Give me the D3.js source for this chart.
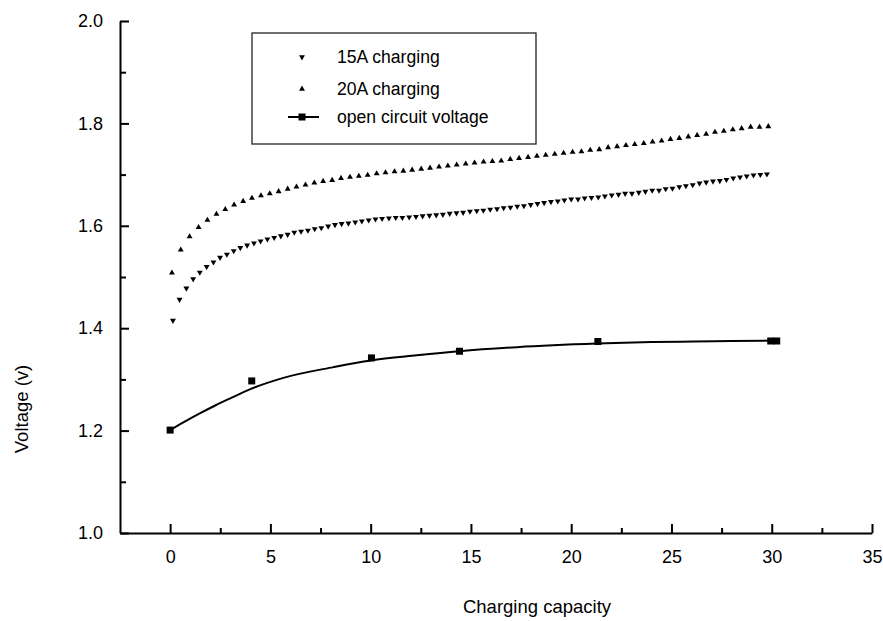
<!DOCTYPE html>
<head>
<meta charset="utf-8">
<style>
body { margin: 0; background: #fff; }
text { font-family: "Liberation Sans", Arial, sans-serif; fill: #000; }
.axis path, .axis line { stroke: #000; stroke-width: 2px; }
.axis text { font-size: 18px; }
.fit { fill: none; stroke: #000; stroke-width: 2px; }
</style>
</head>
<body>
<script src="https://d3js.org/d3.v7.min.js"></script>
<script>

// 15A charging (down triangles)
var cap15 = [0.14,0.47,0.81,1.15,1.48,1.82,2.16,2.49,2.83,3.17,
  3.50,3.84,4.18,4.51,4.85,5.19,5.52,5.86,6.19,6.53,
  6.87,7.21,7.54,7.88,8.22,8.55,8.89,9.23,9.56,9.90,
  10.24,10.57,10.91,11.25,11.58,11.92,12.26,12.59,12.93,13.27,
  13.60,13.94,14.28,14.61,14.95,15.29,15.62,15.96,16.30,16.63,
  16.97,17.31,17.64,17.98,18.32,18.65,18.99,19.33,19.66,20.00,
  20.34,20.67,21.01,21.35,21.68,22.02,22.36,22.69,23.03,23.37,
  23.70,24.04,24.38,24.71,25.05,25.39,25.72,26.06,26.40,26.73,
  27.07,27.41,27.74,28.08,28.42,28.75,29.09,29.43,29.76];
var volt15 = [1.415,1.456,1.478,1.496,1.509,1.520,1.529,1.538,1.544,1.551,
  1.557,1.562,1.566,1.570,1.574,1.577,1.580,1.583,1.587,1.589,
  1.591,1.594,1.596,1.599,1.602,1.604,1.605,1.607,1.609,1.611,
  1.613,1.614,1.615,1.616,1.616,1.617,1.618,1.619,1.620,1.621,
  1.622,1.624,1.625,1.626,1.628,1.629,1.630,1.632,1.633,1.635,
  1.636,1.638,1.639,1.641,1.643,1.645,1.647,1.648,1.650,1.652,
  1.652,1.654,1.655,1.656,1.658,1.660,1.661,1.663,1.663,1.665,
  1.667,1.669,1.669,1.672,1.673,1.676,1.678,1.680,1.683,1.685,
  1.687,1.688,1.690,1.693,1.695,1.697,1.699,1.700,1.701];

// 20A charging (up triangles)
var cap20 = [0.09,0.53,0.97,1.42,1.86,2.31,2.75,3.19,3.64,4.08,
  4.53,4.97,5.41,5.86,6.30,6.75,7.19,7.63,8.08,8.52,
  8.97,9.41,9.85,10.30,10.74,11.19,11.63,12.07,12.52,12.96,
  13.41,13.85,14.29,14.74,15.18,15.63,16.07,16.51,16.96,17.40,
  17.85,18.29,18.73,19.18,19.62,20.07,20.51,20.95,21.40,21.84,
  22.29,22.73,23.17,23.62,24.06,24.51,24.95,25.39,25.84,26.28,
  26.73,27.17,27.61,28.06,28.50,28.95,29.39,29.83];
var volt20 = [1.508,1.553,1.579,1.597,1.611,1.623,1.632,1.641,1.648,1.654,
  1.659,1.663,1.667,1.672,1.676,1.680,1.684,1.687,1.689,1.693,
  1.695,1.697,1.699,1.702,1.704,1.706,1.707,1.709,1.711,1.713,
  1.715,1.717,1.719,1.721,1.723,1.725,1.726,1.727,1.730,1.732,
  1.734,1.736,1.738,1.740,1.742,1.744,1.745,1.748,1.749,1.753,
  1.755,1.757,1.759,1.761,1.764,1.766,1.769,1.771,1.774,1.777,
  1.779,1.783,1.785,1.788,1.790,1.793,1.793,1.794];

// open circuit voltage measurements
var capOcv = [0, 4.07, 10.04, 14.43, 21.33, 29.95, 30.25];
var voltOcv = [1.201, 1.297, 1.342, 1.355, 1.374, 1.375, 1.375];

// fitted curve through the open circuit points
var capFit = [0, 0.75, 1.5, 2.25, 3, 4, 5.65, 8.15, 10, 12.3, 14.4, 17.3, 21.3, 24, 26.1, 28, 30.3];
var voltFit = [1.201, 1.218, 1.234, 1.249, 1.263, 1.281, 1.303, 1.324, 1.337, 1.347, 1.355, 1.363, 1.370, 1.373, 1.374, 1.375, 1.376];

// ticks
var xTicks = [0, 5, 10, 15, 20, 25, 30, 35];
var xMinor = [2.5, 7.5, 12.5, 17.5, 22.5, 27.5, 32.5];
var yTicks = [1.0, 1.2, 1.4, 1.6, 1.8, 2.0];
var yMinor = [1.1, 1.3, 1.5, 1.7, 1.9];

var legendNames = ["15A charging", "20A charging", "open circuit voltage"];

var svg = d3.select("body").append("svg")
    .attr("width", 883)
    .attr("height", 621);

// scales
var x = d3.scaleLinear().domain([-2.5, 35]).range([120, 872]);
var y = d3.scaleLinear().domain([1.0, 2.0]).range([533, 21]);

// minor ticks first, then main axes
svg.append("g")
    .attr("class", "axis")
    .attr("transform", "translate(0,533)")
    .call(d3.axisBottom(x).tickValues(xMinor).tickSize(-5).tickFormat(""))
    .select(".domain").remove();
svg.append("g")
    .attr("class", "axis")
    .attr("transform", "translate(120,0)")
    .call(d3.axisLeft(y).tickValues(yMinor).tickSize(-6).tickFormat(""))
    .select(".domain").remove();

svg.append("g")
    .attr("class", "axis")
    .attr("transform", "translate(0,533)")
    .call(d3.axisBottom(x).tickValues(xTicks).tickSizeInner(-9).tickSizeOuter(0)
      .tickPadding(17).tickFormat(d3.format("d")));

svg.append("g")
    .attr("class", "axis")
    .attr("transform", "translate(120,0)")
    .call(d3.axisLeft(y).tickValues(yTicks).tickSizeInner(-9).tickSizeOuter(0)
      .tickPadding(17).tickFormat(d3.format(".1f")));

svg.selectAll(".axis text").attr("font-family", null);

// axis titles
svg.append("text")
    .attr("x", 537)
    .attr("y", 613)
    .attr("text-anchor", "middle")
    .style("font-size", "18.5px")
    .text("Charging capacity");

svg.append("text")
    .attr("transform", "translate(28,409) rotate(-90)")
    .attr("text-anchor", "middle")
    .style("font-size", "18.5px")
    .text("Voltage (v)");

// fitted line
var line = d3.line()
    .x(function(d) { return x(d[0]); })
    .y(function(d) { return y(d[1]); })
    .curve(d3.curveMonotoneX);

svg.append("path")
    .datum(d3.zip(capFit, voltFit))
    .attr("class", "fit")
    .attr("d", line);

var tri = d3.symbol().type(d3.symbolTriangle).size(15);

// 20A points
svg.append("g").selectAll("path")
    .data(d3.zip(cap20, volt20))
  .enter().append("path")
    .attr("d", tri)
    .attr("transform", function(d) { return "translate(" + x(d[0]) + "," + y(d[1]) + ")"; });

// 15A points
svg.append("g").selectAll("path")
    .data(d3.zip(cap15, volt15))
  .enter().append("path")
    .attr("d", tri)
    .attr("transform", function(d) { return "translate(" + x(d[0]) + "," + y(d[1]) + ") rotate(180)"; });

// open circuit squares
svg.append("g").selectAll("rect")
    .data(d3.zip(capOcv, voltOcv))
  .enter().append("rect")
    .attr("x", function(d) { return x(d[0]) - 3.5; })
    .attr("y", function(d) { return y(d[1]) - 3.5; })
    .attr("width", 7)
    .attr("height", 7);

// legend
var legend = svg.append("g").attr("transform", "translate(252,33)");
legend.append("rect")
    .attr("width", 284)
    .attr("height", 111)
    .attr("fill", "none")
    .attr("stroke", "#222")
    .attr("stroke-width", 1.3);

var rows = [24, 56, 84];
legend.selectAll("text.lbl")
    .data(legendNames)
  .enter().append("text")
    .attr("class", "lbl")
    .attr("x", 85)
    .attr("y", function(d, i) { return rows[i] + 6; })
    .style("font-size", "17.6px")
    .text(function(d) { return d; });

legend.append("path")
    .attr("d", tri)
    .attr("transform", "translate(50," + rows[0] + ") rotate(180)");
legend.append("path")
    .attr("d", tri)
    .attr("transform", "translate(50," + rows[1] + ")");
legend.append("line")
    .attr("x1", 36).attr("x2", 67)
    .attr("y1", rows[2]).attr("y2", rows[2])
    .attr("stroke", "#000").attr("stroke-width", 2);
legend.append("rect")
    .attr("x", 46.5).attr("y", rows[2] - 3.5)
    .attr("width", 7).attr("height", 7);

</script>
</body>
